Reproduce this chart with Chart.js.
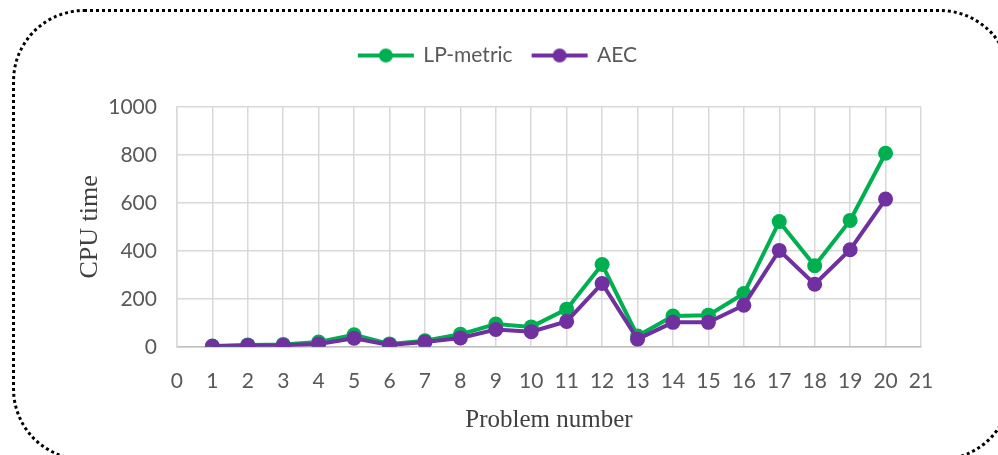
<!DOCTYPE html>
<html lang="en">

<style type="text/css">
    body {
        margin: 0;
        background: #ffffff;
        overflow: hidden;
    }

    .wrap {
        position: relative;
        width: 998px;
        height: 455px;
        overflow: hidden;
    }

    .frame {
        position: absolute;
        left: 12px;
        top: 9px;
        width: 1000px;
        height: 452px;
        border: 3px dotted #000;
        border-radius: 72px;
        pointer-events: none;
        box-sizing: border-box;
    }
</style>

<head>
    <meta charset="UTF-8">
    <title>CPU time</title>
</head>

<body>
    <div class="wrap">
        <canvas id="myChart" width="998" height="455"></canvas>
        <div class="frame"></div>
    </div>

    <script src="https://cdn.jsdelivr.net/npm/chart.js"></script>

    <script>
        // values
        const problems = [1, 2, 3, 4, 5, 6, 7, 8, 9, 10, 11, 12, 13, 14, 15, 16, 17, 18, 19, 20];
        const lpMetric = [3, 8, 10, 20, 50, 12, 25, 52, 95, 83, 157, 343, 45, 128, 132, 222, 522, 338, 527, 807];
        const aec = [2, 5, 6, 12, 36, 8, 20, 37, 72, 63, 106, 264, 32, 102, 102, 173, 402, 261, 405, 616];
        const yTicks = [0, 200, 400, 600, 800, 1000];

        const green = '#00B050';
        const purple = '#7030A0';
        const tickColor = '#595959';

        function toPoints(vals) {
            return problems.map((p, i) => ({ x: p, y: vals[i] }));
        }

        // little line-with-dot marker for the legend
        function legendMarker(color) {
            const c = document.createElement('canvas');
            c.width = 58;
            c.height = 16;
            const ctx = c.getContext('2d');
            ctx.strokeStyle = color;
            ctx.lineWidth = 4;
            ctx.beginPath();
            ctx.moveTo(1, 8);
            ctx.lineTo(57, 8);
            ctx.stroke();
            ctx.fillStyle = color;
            ctx.beginPath();
            ctx.arc(29, 8, 7, 0, Math.PI * 2);
            ctx.fill();
            return c;
        }
        const markers = [legendMarker(purple), legendMarker(green)];

        // push the plot down a bit below the legend
        const legendGap = {
            id: 'legendGap',
            beforeInit(chart) {
                const fit = chart.legend.fit;
                chart.legend.fit = function () {
                    fit.call(this);
                    this.height += 31;
                };
            }
        };

        const config = {
            type: 'line',
            data: {
                datasets: [{
                    label: 'AEC',
                    data: toPoints(aec),
                    borderColor: purple,
                    backgroundColor: purple,
                    borderWidth: 4,
                    pointRadius: 7.5,
                    pointHoverRadius: 7.5,
                    pointBorderWidth: 0,
                    tension: 0
                }, {
                    label: 'LP-metric',
                    data: toPoints(lpMetric),
                    borderColor: green,
                    backgroundColor: green,
                    borderWidth: 4,
                    pointRadius: 7.5,
                    pointHoverRadius: 7.5,
                    pointBorderWidth: 0,
                    tension: 0
                }]
            },
            options: {
                responsive: false,
                animation: false,
                layout: {
                    padding: { left: 75, right: 77, top: 25, bottom: 20 }
                },
                scales: {
                    x: {
                        type: 'linear',
                        min: 0,
                        max: 21,
                        grid: {
                            color: '#d9d9d9',
                            lineWidth: 1.5,
                            drawTicks: false
                        },
                        border: { color: '#bfbfbf', width: 1.5 },
                        ticks: {
                            stepSize: 1,
                            padding: 22,
                            color: tickColor,
                            font: { family: 'Lato', size: 21 }
                        },
                        title: {
                            display: true,
                            text: 'Problem number',
                            color: '#404040',
                            font: { family: 'Liberation Serif', size: 25 },
                            padding: { top: -11, bottom: 0 }
                        }
                    },
                    y: {
                        min: 0,
                        max: 1000,
                        afterBuildTicks: (axis) => {
                            axis.ticks = yTicks.map(v => ({ value: v }));
                        },
                        grid: {
                            color: '#d9d9d9',
                            lineWidth: 1.5,
                            drawTicks: false
                        },
                        border: { color: '#d9d9d9', width: 1.5 },
                        ticks: {
                            padding: 20,
                            color: tickColor,
                            font: { family: 'Lato', size: 21 },
                            callback: (v) => String(v)
                        },
                        title: {
                            display: true,
                            text: 'CPU time',
                            color: '#404040',
                            font: { family: 'Liberation Serif', size: 26 },
                            padding: { top: 0, bottom: -18 }
                        }
                    }
                },
                plugins: {
                    tooltip: { enabled: false },
                    legend: {
                        position: 'top',
                        reverse: true,
                        labels: {
                            usePointStyle: true,
                            pointStyleWidth: 54,
                            padding: 20,
                            color: tickColor,
                            font: { family: 'Lato', size: 21 },
                            generateLabels: (chart) => {
                                const items = Chart.defaults.plugins.legend.labels.generateLabels(chart);
                                items.forEach(it => {
                                    it.pointStyle = markers[it.datasetIndex];
                                });
                                return items;
                            }
                        }
                    }
                }
            },
            plugins: [legendGap]
        };

        const myChart = new Chart(document.getElementById('myChart'), config);
    </script>
</body>

</html>
